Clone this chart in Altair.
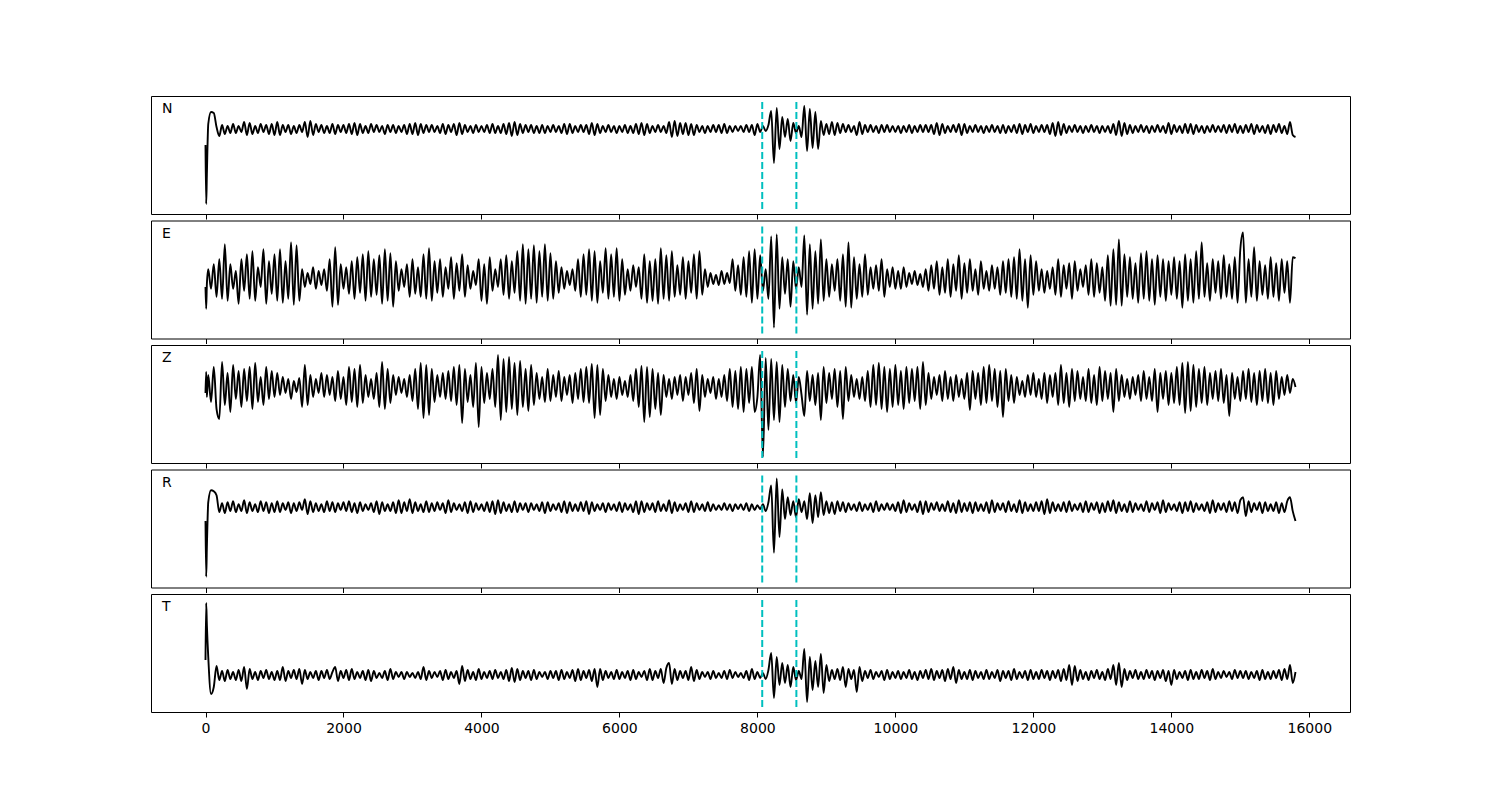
import altair as alt
import pandas as pd

COMPONENTS = ["N", "E", "Z", "R", "T"]
ONSET_T = [0, 10, 20]          # first samples (fine onset)
STEP = 40
LINE_SPAN = 1000               # each row below covers 1000 samples
PICKS = [8070, 8565]           # dashed cyan markers
X_TICKS = [0, 2000, 4000, 6000, 8000, 10000, 12000, 14000, 16000]
X_DOMAIN = [-790, 16590]
Y_DOMAINS = {"N": [-85, 33], "E": [-60, 59], "Z": [-76, 42], "R": [-81, 38], "T": [-37, 81]}

N_ONSET = [-16, -75, -45]
N_LINES = [
    [5, 17, 16, 2, -7, 4, -5, 3, -4, 5, -4, 3, -3, 7, -6, 6, -5, 3, -4, 5, -3, 4, -5, 5, -6],
    [7, -6, 4, -3, 4, -5, 3, -4, 4, -3, 7, -8, 8, -6, 5, -3, 4, -4, 3, -4, 5, -5, 4, -3, 4],
    [-4, 5, -5, 6, -6, 5, -4, 3, -4, 5, -3, 4, -3, 3, -5, 4, -3, 4, -4, 3, -3, 4, -5, 5, -5],
    [6, -6, 5, -4, 4, -3, 4, -3, 3, -4, 5, -5, 4, -3, 5, -6, 6, -5, 4, -3, 3, -4, 4, -3, 3],
    [-3, 4, -4, 5, -4, 3, -4, 5, -5, 6, -7, 7, -6, 5, -4, 4, -3, 4, -4, 3, -4, 4, -4, 3, -3],
    [4, -3, 3, -4, 5, -5, 5, -4, 3, -3, 4, -3, 4, -5, 6, -6, 5, -4, 3, -3, 4, -3, 3, -4, 3],
    [-3, 4, -4, 3, -4, 5, -5, 6, -6, 5, -4, 3, -3, 4, -3, 3, -4, 7, -8, 8, -7, 6, -5, 6, -6],
    [5, -6, 4, -3, 3, -4, 3, -3, 4, -3, 4, -4, 5, -4, 3, -3, 3, -2, 3, -3, 4, -3, 4, -6, 5],
    [-3, 3, -2, 4, 18, -34, 21, -20, 12, -8, 10, -12, 6, -4, 3, -8, 23, -22, 20, -19, 17, -20, 8, -6, 5],
    [-5, 7, -6, 6, -4, 5, -3, 4, -3, 3, -6, 7, -5, 4, -3, 4, -3, 3, -4, 4, -3, 4, -3, 3, -3],
    [3, -4, 3, -3, 4, -4, 3, -3, 4, -3, 4, -3, 4, -5, 6, -6, 5, -4, 3, -3, 4, -3, 5, -6, 5],
    [-4, 3, -3, 4, -3, 3, -4, 3, -3, 4, -3, 3, -4, 4, -4, 3, -3, 4, -4, 5, -5, 4, -3, 5, -4],
    [3, -3, 4, -3, 4, -5, 6, -7, 7, -6, 5, -4, 3, -3, 4, -3, 3, -4, 3, -3, 4, -3, 3, -4, 3],
    [-3, 3, -4, 5, -6, 8, -7, 6, -5, 4, -4, 3, -3, 4, -3, 3, -4, 3, -3, 4, -3, 3, -4, 6, -5],
    [4, -3, 3, -4, 5, -4, 5, -5, 4, -3, 3, -4, 3, -3, 4, -3, 3, -3, 4, -4, 4, -3, 5, -4, 3],
    [-4, 4, -3, 5, -5, 4, -3, 3, -4, 4, -5, 4, -3, 5, -4, 3, -5, 7, -6, -8],
]

E_ONSET = [-8, -30, -5]
E_LINES = [
    [10, -10, 15, -18, 20, -20, 35, -22, 15, -10, 8, -25, 20, -12, 25, -20, 28, -22, 12, -8, 30, -25, 18, -15, 25],
    [-22, 30, -24, 18, -20, 37, -26, 34, -22, 10, -8, 6, -5, 12, -10, 8, -6, 10, -12, 20, -28, 32, -26, 15, -10],
    [12, -15, 18, -20, 22, -14, 25, -22, 28, -18, 20, -16, 24, -25, 30, -22, 26, -28, 18, -12, 10, -8, 15, -18, 20],
    [-15, 12, -18, 25, -20, 31, -22, 18, -14, 20, -18, 12, -10, 22, -20, 16, -12, 25, -18, 14, -10, 8, -6, 20, -22],
    [15, -25, 22, -12, 10, -8, 20, -16, 24, -20, 18, -14, 28, -22, 35, -25, 30, -20, 34, -24, 28, -18, 35, -22, 26],
    [-20, 18, -14, 12, -10, 8, -6, 10, -12, 20, -18, 25, -16, 30, -22, 28, -24, 18, -14, 31, -20, 25, -18, 31, -22],
    [20, -16, 10, -12, 14, -8, 12, -20, 25, -24, 18, -22, 20, -25, 31, -20, 24, -22, 28, -18, 14, -16, 22, -20, 18],
    [-14, 25, -20, 28, -16, 10, -8, 6, -5, 4, -6, 8, -5, 6, -4, 20, -12, 14, -16, 22, -18, 28, -24, 30, -20],
    [24, -12, 10, -20, 43, -49, 45, -30, 22, -15, 20, -28, 18, -10, 12, -8, 44, -36, 35, -30, 28, -25, 40, -22, 20],
    [-18, 15, -12, 20, -22, 25, -28, 37, -29, 22, -20, 15, -18, 25, -16, 12, -10, 14, -12, 20, -18, 10, -8, 12, -10],
    [8, -10, 12, -8, 6, -5, 8, -6, 5, -8, 10, -12, 14, -10, 18, -16, 12, -14, 20, -18, 15, -12, 24, -20, 16],
    [-14, 20, -12, 10, -16, 18, -10, 8, -12, 14, -10, 12, -16, 18, -14, 20, -18, 22, -20, 30, -22, 20, -29, 24, -16],
    [18, -12, 10, -14, 8, -10, 12, -16, 20, -18, 14, -10, 16, -20, 18, -12, 10, -8, 14, -16, 20, -18, 16, -14, 12],
    [-22, 24, -27, 30, -26, 40, -27, 25, -18, 22, -20, 16, -24, 26, -20, 28, -22, 20, -26, 24, -18, 20, -22, 18, -16],
    [22, -20, 18, -29, 25, -22, 20, -24, 28, -20, 37, -18, 16, -22, 20, -14, 18, -20, 24, -18, 15, -20, 22, -24, 30],
    [47, -24, 20, -18, 32, -22, 18, -16, 14, -20, 22, -18, 16, -22, 20, -14, 18, -24, 22, 21],
]

Z_ONSET = [-6, 15, -10]
Z_LINES = [
    [12, -15, 20, -22, -32, 25, -18, 14, -25, 22, -12, 16, -20, 18, -14, 20, -22, 24, -15, 10, -18, 20, -12, 16, -10],
    [14, -8, 10, -6, 8, -12, 6, -5, 9, -20, 22, -18, 12, -10, 8, -6, 14, -10, 12, -8, 10, -14, 16, -12, 10],
    [-18, 20, -15, 18, -20, 22, -16, 12, -10, 8, -12, 14, -20, 25, -22, 18, -16, 12, -8, 10, -6, 8, -10, 12, -14],
    [18, -22, 24, -31, 22, -28, 18, -15, 12, -10, 14, -12, 16, -14, 20, -18, 22, -36, 18, -15, 12, -20, 24, -40, 20],
    [-16, 14, -12, 18, -20, 32, -33, 28, -25, 30, -22, 24, -28, 26, -20, 18, -24, 22, -18, 14, -12, 10, -15, 18, -14],
    [12, -10, 16, -14, 10, -8, 12, -16, 14, -12, 18, -15, 20, -16, 23, -31, 22, -28, 18, -14, 12, -10, 8, -12, 10],
    [-8, 6, -10, 12, -14, 18, -20, 21, -35, 20, -30, 18, -22, 14, -28, 12, -10, 8, -12, 10, -8, 12, -14, 10, -8],
    [14, -16, 18, -24, 12, -10, 8, -6, 10, -12, 8, -10, 12, -14, 18, -20, 16, -22, 20, -25, 18, -16, 20, -25, -10],
    [32, -70, 29, -43, 28, -33, 25, -35, 22, -20, 18, -14, 12, -16, 10, -8, -29, 16, -14, 12, -18, 14, -33, 20, -16],
    [14, -12, 18, -20, 16, -32, 20, -14, 12, -10, 8, -12, 10, -14, 16, -20, 22, -18, 24, -22, 20, -25, 18, -20, 22],
    [-18, 16, -22, 20, -16, 18, -14, 20, -22, 25, -18, 14, -12, 10, -8, 12, -14, 16, -12, 10, -14, 12, -10, 8, -12],
    [14, -23, 16, -12, 14, -18, 20, -16, 22, -14, 18, -20, 16, -30, 18, -14, 12, -16, 10, -8, 6, -10, 12, -8, 14],
    [-10, 8, -12, 14, -16, 12, -10, 14, -18, 22, -16, 14, -20, 18, -14, 16, -12, 10, -14, 18, -16, 12, -18, 20, -14],
    [16, -12, 14, -25, 18, -14, 12, -10, 8, -12, 10, -8, 12, -14, 16, -12, 10, -14, 18, -25, 14, -12, 16, -18, 14],
    [-16, 20, -18, 24, -26, 25, -24, 22, -20, 18, -16, 20, -18, 14, -12, 16, -14, 18, -16, 12, -29, 14, -12, 10, -14],
    [16, -12, 18, -15, 14, -18, 16, -14, 18, -16, 14, -18, 16, -12, 10, -8, 12, -6, 8, 0],
]

R_ONSET = [-14, -70, -40]
R_LINES = [
    [5, 17, 16, 12, -5, 4, -6, 5, -4, 6, -5, 3, -4, 7, -6, 5, -4, 3, -5, 6, -4, 5, -6, 4, -5],
    [6, -5, 4, -3, 5, -6, 4, -4, 5, -3, 8, -7, 6, -5, 4, -4, 3, -5, 6, -4, 5, -5, 4, -3, 5],
    [-4, 6, -5, 4, -6, 5, -4, 3, -3, 4, -5, 6, -7, 5, -4, 3, -4, 5, -6, 7, -6, 5, -4, 8, -6],
    [5, -4, 3, -5, 6, -5, 4, -4, 5, -3, 4, -6, 7, -5, 4, -3, 3, -4, 5, -6, 6, -5, 4, -3, 3],
    [-4, 5, -5, 6, -7, 7, -6, 5, -4, 3, -5, 6, -5, 4, -3, 4, -5, 4, -3, 3, -4, 5, -6, 5, -4],
    [3, -3, 4, -5, 6, -6, 5, -4, 3, -4, 5, -4, 6, -7, 5, -4, 3, -3, 4, -5, 4, -3, 3, -4, 5],
    [-5, 4, -3, 3, -5, 6, -7, 6, -5, 4, -3, 4, -5, 6, -4, 3, -4, 7, -6, 5, -4, 3, -3, 4, -5],
    [6, -5, 4, -3, 3, -4, 5, -4, 3, -3, 2, -3, 4, -3, 3, -4, 3, -2, 3, -3, 4, -4, 3, -3, 2],
    [-2, 3, -4, 5, 22, -46, 29, -30, 18, -12, 10, -8, 6, -10, 8, -5, 6, -12, 14, -16, 12, -10, 15, -8, 6],
    [-6, 5, -7, 6, -4, 5, -5, 4, -3, 3, -4, 5, -4, 3, -3, 4, -5, 6, -4, 3, -3, 4, -3, 3, -4],
    [5, -6, 7, -5, 4, -3, 3, -5, 6, -7, 6, -5, 4, -3, 5, -4, 3, -4, 6, -5, 4, -6, 7, -5, 4],
    [-4, 5, -6, 5, -4, 3, -4, 5, -6, 7, -5, 4, -3, 4, -5, 6, -4, 3, -5, 7, -6, 5, -4, 3, -4],
    [5, -4, 6, -7, 8, -6, 5, -4, 3, -4, 5, -5, 6, -4, 3, -3, 4, -5, 6, -5, 4, -3, 5, -6, 4],
    [-5, 6, -4, 7, -6, 5, -4, 3, -5, 6, -5, 4, -3, 3, -4, 6, -5, 4, -3, 5, -6, 7, -5, 4, -3],
    [3, -4, 5, -6, 5, -4, 6, -5, 4, -3, 3, -4, 5, -6, 7, -5, 4, -3, 4, -5, 6, -4, 5, -6, 7],
    [10, -9, 6, -5, 4, -3, 5, -6, 5, -4, 3, -4, 5, -6, 4, -5, 6, 10, -4, -14],
]

T_ONSET = [15, 72, 50]
T_LINES = [
    [18, -19, -12, 9, -5, 4, -6, 5, -4, 3, -5, 5, -6, 8, -14, 6, -4, 3, -5, 4, -3, 5, -4, 3, -5],
    [4, -5, 8, -6, 4, -3, 5, -4, 6, -9, 5, -4, 3, -3, 4, -5, 4, -3, 5, -4, 3, 8, -6, 4, -3],
    [5, -5, 6, -4, 3, -3, 4, -5, 5, -6, 4, -3, 2, -3, 4, -5, 6, -4, 3, -2, 3, -4, 3, -2, 2],
    [-3, 3, -4, 8, -5, 4, -3, 3, -2, 4, -5, 5, -4, 3, -3, 4, -9, 9, -6, 5, -4, 3, -5, 6, -4],
    [3, -3, 4, -4, 5, -3, 3, -4, 5, -6, 7, -7, 6, -5, 4, -3, 4, -5, 5, -4, 3, -2, 3, -4, 4],
    [-3, 4, -5, 5, -4, 3, -3, 5, -6, 6, -5, 4, -3, 5, -6, 6, -12, 6, -5, 4, -3, 3, -4, 5, -4],
    [3, -3, 4, -5, 5, -4, 3, -2, 4, -5, 6, -5, 4, -3, 6, -8, 7, 12, -9, 6, -5, 4, -3, 4, -5],
    [8, -6, 5, -4, 3, -2, 3, -4, 4, -3, 2, -3, 4, -4, 5, -3, 3, -2, 2, -3, 4, -5, 6, -4, 3],
    [-3, 2, -4, 5, 22, -23, 18, -10, 12, -8, 10, -12, 8, -5, 4, -4, 26, -27, 18, -15, 14, -12, 21, -18, 10],
    [-6, 5, -4, 6, -5, 8, -12, 6, -4, 5, -17, 8, -6, 4, -3, 5, -4, 3, -2, 4, -5, 5, -4, 3, -3],
    [4, -4, 3, -3, 5, -4, 3, -5, 4, -3, 5, -4, 6, -5, 4, -3, 5, -6, 6, -4, 8, -8, 5, -4, 3],
    [-4, 5, -5, 4, -3, 3, -4, 5, -4, 3, -3, 5, -6, 4, -3, 4, -5, 6, -4, 3, -3, 4, -5, 5, -4],
    [3, -4, 5, -3, 4, -5, 4, -3, 5, -6, 6, -5, 10, -10, 9, -6, 5, -4, 3, -5, 4, -3, 5, -4, 3],
    [-5, 6, -4, 10, -10, 12, -12, 6, -5, 4, -3, 5, -4, 3, -4, 5, -3, 4, -5, 4, -3, 5, -6, 4, -10],
    [5, -4, 3, -3, 4, -5, 5, -4, 3, -4, 5, -3, 4, -5, 6, -4, 3, -3, 4, -2, 3, -4, 5, -3, 4],
    [-3, 4, -4, 3, -3, 4, -5, 5, -4, 3, -4, 4, -3, 5, -5, 6, -4, 10, -8, 3],
]

TRACES = {
    "N": (N_ONSET, N_LINES),
    "E": (E_ONSET, E_LINES),
    "Z": (Z_ONSET, Z_LINES),
    "R": (R_ONSET, R_LINES),
    "T": (T_ONSET, T_LINES),
}


def trace_frame(onset, lines):
    t, a = [], []
    for ti, v in zip(ONSET_T, onset):
        t.append(ti)
        a.append(v)
    for k, line in enumerate(lines):
        for i, v in enumerate(line):
            t.append(STEP + LINE_SPAN * k + STEP * i)
            a.append(v)
    return pd.DataFrame({"t": t, "amp": a})


FONT = "DejaVu Sans"
PANEL_W, PANEL_H = 1199, 118

panels = []
for idx, comp in enumerate(COMPONENTS):
    last = idx == len(COMPONENTS) - 1
    axis = alt.Axis(
        values=X_TICKS, labels=last, ticks=True, tickSize=5, tickWidth=1,
        tickColor="black", domain=False, grid=False, title=None, format="d",
        labelFont=FONT, labelFontSize=14, labelColor="black", labelPadding=4,
    )
    xenc = alt.X("t:Q", scale=alt.Scale(domain=X_DOMAIN, nice=False, zero=False), axis=axis)
    df = trace_frame(*TRACES[comp])
    line = alt.Chart(df).mark_line(
        color="black", strokeWidth=1.9, clip=True, interpolate="monotone"
    ).encode(
        x=xenc,
        y=alt.Y("amp:Q", scale=alt.Scale(domain=Y_DOMAINS[comp], nice=False, zero=False), axis=None),
    )
    rules = alt.Chart(pd.DataFrame({"t": PICKS})).mark_rule(
        color="#00bfbf", strokeWidth=2, strokeDash=[7, 3]
    ).encode(x=xenc, y=alt.value(6), y2=alt.value(113))
    label = alt.Chart(pd.DataFrame({"c": [comp]})).mark_text(
        font=FONT, fontSize=14, color="black", align="left", baseline="alphabetic"
    ).encode(text="c:N", x=alt.value(11), y=alt.value(17))
    panels.append(alt.layer(line, rules, label).properties(width=PANEL_W, height=PANEL_H))

chart = alt.vconcat(*panels, spacing=6.5, bounds="flush").properties(
    padding={"left": 142, "top": 87, "right": 5, "bottom": 5}
).configure_view(stroke="black", strokeWidth=1)

chart.save("out.html", embed_options={"renderer": "svg", "actions": False})
